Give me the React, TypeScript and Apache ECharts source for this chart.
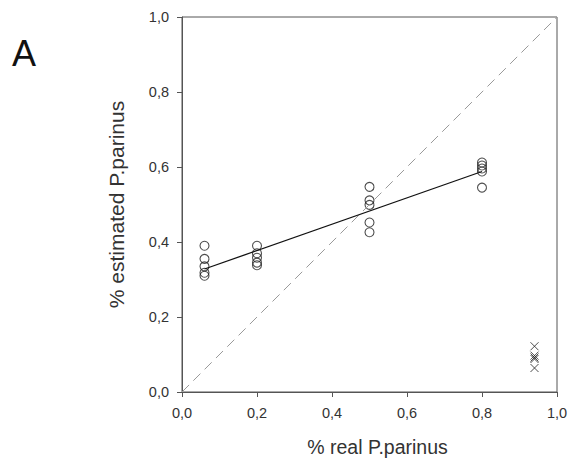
import React, { useEffect, useRef } from "react";
import * as echarts from "echarts";

const circleX: number[] = [0.06, 0.06, 0.06, 0.06, 0.06, 0.2, 0.2, 0.2, 0.2, 0.2, 0.5, 0.5, 0.5, 0.5, 0.5, 0.8, 0.8, 0.8, 0.8, 0.8];
const circleY: number[] = [0.39, 0.355, 0.335, 0.318, 0.31, 0.39, 0.37, 0.358, 0.345, 0.338, 0.547, 0.511, 0.499, 0.452, 0.426, 0.612, 0.604, 0.596, 0.588, 0.545];
const crossX: number[] = [0.94, 0.94, 0.94, 0.94, 0.94];
const crossY: number[] = [0.122, 0.097, 0.092, 0.088, 0.064];
const fitX: number[] = [0.06, 0.8];
const fitY: number[] = [0.328, 0.588];
const diagX: number[] = [0, 1];
const diagY: number[] = [0, 1];
const tickValues: number[] = [0, 0.2, 0.4, 0.6, 0.8, 1.0];

const fmt = (v: number) => v.toFixed(1).replace(".", ",");

export default function App() {
  const ref = useRef<HTMLDivElement>(null);
  useEffect(() => {
    if (!ref.current) return;
    const chart = echarts.init(ref.current, null, { renderer: "svg" });
    const axisCommon = {
      type: "value" as const,
      min: 0,
      max: 1,
      interval: 0.2,
      nameLocation: "middle" as const,
      axisLine: { show: true, lineStyle: { color: "#555", width: 1 } },
      axisTick: { show: true, inside: false, length: 5, lineStyle: { color: "#555" } },
      axisLabel: {
        fontFamily: "Liberation Sans",
        fontSize: 14.5,
        color: "#333",
        margin: 13,
        formatter: (v: number) => (tickValues.some((t) => Math.abs(t - v) < 1e-6) ? fmt(v) : ""),
      },
      splitLine: { show: false },
    };
    chart.setOption({
      animation: false,
      backgroundColor: "#fff",
      grid: { left: 182, right: 15, top: 17, bottom: 74, show: true, borderColor: "#555", borderWidth: 1 },
      graphic: [
        { type: "text", left: 12, top: 35, style: { text: "A", fontSize: 36, fontFamily: "Liberation Sans", fill: "#111" } },
      ],
      xAxis: {
        ...axisCommon,
        name: "% real P.parinus",
        nameGap: 45,
        nameTextStyle: { fontFamily: "Liberation Sans", fontSize: 19.5, color: "#333", padding: [0, 0, 0, 16] },
      },
      yAxis: {
        ...axisCommon,
        name: "% estimated P.parinus",
        nameGap: 55,
        nameTextStyle: { fontFamily: "Liberation Sans", fontSize: 21, color: "#333" },
      },
      series: [
        {
          type: "line",
          data: diagX.map((x, i) => [x, diagY[i]]),
          showSymbol: false,
          lineStyle: { color: "#999", width: 1, type: [10, 6] },
          silent: true,
        },
        {
          type: "line",
          data: fitX.map((x, i) => [x, fitY[i]]),
          showSymbol: false,
          lineStyle: { color: "#111", width: 1.3 },
          silent: true,
        },
        {
          type: "scatter",
          data: circleX.map((x, i) => [x, circleY[i]]),
          symbol: "circle",
          symbolSize: 9,
          itemStyle: { color: "rgba(255,255,255,0)", borderColor: "#222", borderWidth: 1.1 },
        },
        {
          type: "scatter",
          data: crossX.map((x, i) => [x, crossY[i]]),
          symbol: "path://M0,0L10,10M10,0L0,10",
          symbolSize: 8,
          itemStyle: { color: "rgba(255,255,255,0)", borderColor: "#222", borderWidth: 1 },
        },
      ],
    });
    return () => chart.dispose();
  }, []);
  return <div ref={ref} style={{ position: "fixed", left: 0, top: 0, width: 572, height: 466 }} />;
}
